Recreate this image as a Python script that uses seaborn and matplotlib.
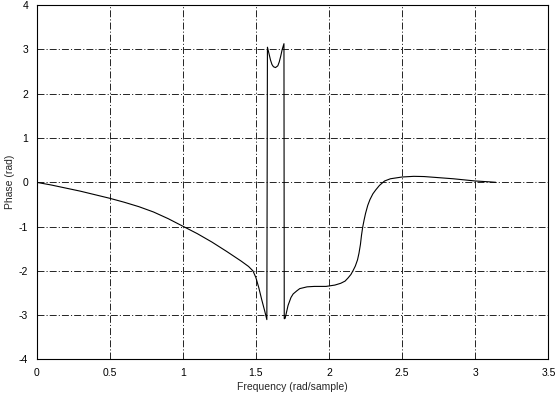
import matplotlib
matplotlib.use('Agg')
import matplotlib.pyplot as plt
import seaborn as sns
import pandas as pd

# phase response (phase wraps at +/- pi)
freq = [0.0, 0.1, 0.2, 0.3, 0.4, 0.5, 0.6, 0.7, 0.8, 0.9, 1.0, 1.1, 1.2, 1.3,
        1.4, 1.45, 1.48, 1.5, 1.52, 1.54, 1.56, 1.575,
        1.579, 1.59, 1.60, 1.61, 1.62, 1.634, 1.65, 1.66, 1.67, 1.68, 1.692,
        1.694, 1.70, 1.72, 1.74, 1.755, 1.78, 1.80, 1.85, 1.9, 1.98, 2.04,
        2.08, 2.11, 2.13, 2.15, 2.165, 2.18, 2.195, 2.205, 2.215, 2.222,
        2.23, 2.24, 2.25, 2.265, 2.28, 2.30, 2.32, 2.345, 2.38, 2.42, 2.5,
        2.58, 2.65, 2.75, 2.85, 3.0, 3.1, 3.14]
phase = [0.0, -0.06, -0.13, -0.20, -0.28, -0.36, -0.45, -0.55, -0.67, -0.82,
         -0.99, -1.16, -1.35, -1.56, -1.78, -1.90, -2.00, -2.15, -2.38, -2.65,
         -2.90, -3.10,
         3.05, 2.90, 2.76, 2.66, 2.61, 2.59, 2.63, 2.72, 2.85, 3.0, 3.13,
         -3.08, -3.07, -2.78, -2.60, -2.52, -2.45, -2.40, -2.36, -2.35, -2.35,
         -2.32, -2.28, -2.23, -2.16, -2.08, -1.99, -1.89, -1.75, -1.60, -1.40,
         -1.20, -1.02, -0.85, -0.70, -0.52, -0.39, -0.26, -0.17, -0.07, 0.03,
         0.08, 0.12, 0.135, 0.13, 0.105, 0.08, 0.03, 0.01, 0.0]

df = pd.DataFrame({'freq': freq, 'phase': phase})

sns.set_style('white')
plt.rcParams['font.family'] = ['Liberation Sans', 'DejaVu Sans']
plt.rcParams['lines.scale_dashes'] = False
plt.rcParams['axes.unicode_minus'] = False

fig = plt.figure(figsize=(5.59, 3.95), dpi=100)
ax = fig.add_axes([0.0653, 0.0899, 0.9157, 0.8971])

sns.lineplot(data=df, x='freq', y='phase', sort=False, estimator=None,
             color='black', linewidth=0.8, ax=ax)

ax.set_xlim(0, 3.5)
ax.set_ylim(-4, 4)
ax.set_xticks([0, 0.5, 1, 1.5, 2, 2.5, 3, 3.5])
ax.set_xticklabels(['0', '0.5', '1', '1.5', '2', '2.5', '3', '3.5'])
ax.set_yticks(range(-4, 5))
ax.grid(True, color='black', linewidth=0.6, linestyle=(0, (5, 1.5, 0.8, 1.5)))
ax.tick_params(direction='in', length=3, width=0.6, labelsize=7.5, pad=6,
               colors='black')
for s in ax.spines.values():
    s.set_color('black')
    s.set_linewidth(0.8)

ax.set_xlabel('Frequency (rad/sample)', fontsize=7.5, labelpad=3)
ax.set_ylabel('Phase (rad)', fontsize=7.5, labelpad=3)

fig.savefig('out.png', dpi=100)
